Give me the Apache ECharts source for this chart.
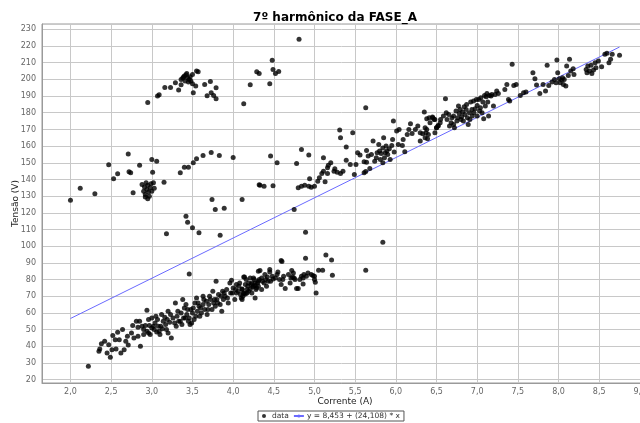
<!DOCTYPE html>
<html>
<head>
<meta charset="utf-8">
<title>7º harmônico da FASE_A</title>
<script src="https://cdn.jsdelivr.net/npm/echarts@6/dist/echarts.min.js"></script>
<style>
  html, body { margin: 0; padding: 0; background: #fff; }
  #chart { width: 640px; height: 423px; }
</style>
</head>
<body>
<div id="chart"></div>
<script>
// Medições: corrente (A) x tensão (V) do 7º harmônico, fase A
const grupoAlto = [
  [2.95,186.2],[3.07,190],[3.09,190.8],[3.16,195.2],[3.23,195.2],[3.29,198],[3.33,193.6],
  [3.36,200],[3.38,200.8],[3.40,202],[3.42,202.8],[3.44,201],[3.46,200],[3.47,201.6],
  [3.50,203],[3.36,196.8],[3.55,205],[3.57,204.6],[3.50,197.4],[3.54,196],[3.51,192],
  [3.41,199],[3.43,203.5],[3.45,198.5],[3.39,201.5],[3.48,199],
  [3.65,197],[3.72,198.8],[3.68,190.2],[3.73,192],[3.76,190.4],[3.79,195],[3.79,188.4],
  [4.13,185.4],[4.21,196.8],[4.29,204.6],[4.32,203.6],[4.45,197.4],[4.48,211.4],
  [4.49,206],[4.52,203.6],[4.56,204.8],[4.81,224]
];

const grupoMedio = [
  [2.0,127.6],[2.12,134.8],[2.30,131.4],[2.47,148.8],[2.53,140.4],[2.58,143.4],[2.71,155.2],
  [2.72,144.6],[2.74,144],[2.77,132],[2.85,148.6],[3.0,152],[3.06,151],[3.01,144.4],
  [3.15,138.4],[3.03,134.8],[3.35,144],[3.40,147.4],[3.45,147.4],[3.51,150],[3.55,152.4],
  [3.63,154.4],[3.73,156.2],[3.83,154.4],[4.0,153.2],[4.32,136.8],[4.38,136],[4.33,136.6],
  [4.49,136.2],[4.46,154],[4.54,150],[4.78,149.6],[4.84,158],[4.93,154.6],[4.80,135],
  [4.84,136],[4.88,136.6],[4.93,136],[4.96,135.4],[4.94,140.4],
  [2.88,137],[2.90,133],[2.91,135.5],[2.92,131],[2.93,138],[2.94,134],[2.95,136.5],
  [2.96,132.5],[2.97,130],[2.98,135],[2.99,137.5],[3.0,133],[2.92,129.5],[2.95,128.5],[3.02,138]
];

const dispersos = [
  [3.74,128],[3.78,122],[3.89,122.8],[4.11,128],[3.42,118],[3.44,114.4],[3.50,111],
  [3.58,108],[3.18,107.4],[3.84,106.6],[3.46,83.4],[2.22,28],[4.75,122],[4.89,108.4],
  [5.84,102.4],[5.63,85.6],[5.14,94.8],[5.21,91.8],[5.22,82.6],[4.89,92.8],[4.59,91.4],
  [4.60,90.8],[5.63,183]
];

const bandaInferior = [
  [2.35,37],[2.36,38.4],[2.38,41.6],[2.42,43],[2.47,41],[2.49,33.4],[2.51,38],[2.56,38.4],
  [2.52,46.4],[2.58,48.4],[2.64,50],[2.70,46],[2.71,40.8],[2.66,38],[2.86,40],
  [2.60,44],[2.68,43],[2.75,48],[2.78,45],[2.90,47],[2.62,36],[2.45,36],[2.55,44],
  [2.85,55],[2.96,56],[3.05,58],[2.98,47],
  [2.765,52.4],[2.81,55],[2.83,51.4],[2.83,46],[2.88,52],[2.92,52.4],[2.94,49],[2.97,52.4],
  [3.0,51],[3.02,52],[2.94,61.6],[3.0,57],[3.04,54],[3.07,56],[3.08,52],[3.09,49],[3.10,47],
  [3.12,59],[3.14,55],[3.16,57.4],[3.17,53],[3.18,50],[3.20,48],[3.20,61],[3.22,54.4],
  [3.24,45],[3.26,57],[3.29,66],[3.30,52],[3.31,58],[3.33,55],[3.35,55],[3.37,53],[3.38,68],
  [3.39,57],[3.40,63],[3.42,65],[3.43,59],[3.44,62],[3.45,55],[3.46,57],[3.47,53],[3.49,54],
  [3.50,60],[3.51,63],[3.53,66],[3.54,58],[3.55,69],[3.56,61],[3.58,64],[3.59,58],[3.61,60],
  [3.63,65],[3.63,70],[3.65,62],[3.67,67],[3.68,59],[3.70,65],[3.72,68],[3.74,62],[3.75,73],
  [3.76,66],[3.78,64],[3.79,79],[3.80,68],[3.82,71],[3.84,65],[3.86,61],[3.87,73],[3.88,68],
  [3.90,70],[3.92,74],[3.94,66],[3.96,78],[3.97,72],[3.98,79.6],[4.00,75],[4.02,68],[4.04,77],
  [4.04,72],[4.06,73],[4.08,78],[4.10,69],[4.11,74.4],[4.13,71.6],[4.13,81.6],[4.15,77],
  [4.17,74],[4.19,78],[4.21,81],[4.23,72],[4.25,76],[4.27,78],[4.29,75],[4.31,85],[4.32,80],
  [4.86,81],[4.84,82],[4.87,83],[4.72,85.4],[4.74,84],[4.71,81],[4.73,81.6],[4.75,81],
  [4.80,74.6],[4.78,74.6],[4.86,77.4],[4.64,74.6],[4.59,77],[4.61,80],[4.55,84.6],[4.52,81],
  [4.45,86],[4.45,84.6],[4.42,81.6],[4.40,80],[4.33,85.4],[4.35,81],[4.31,79],[4.25,81],
  [4.23,78],[4.16,80],[4.14,81.6],[4.27,76.4],[4.28,74],[4.24,75.6],[4.21,74.4],[4.19,73],
  [4.17,72],[4.15,71.4],[4.12,70],[4.11,68],[4.35,74],[4.31,76],[4.41,76],[4.49,80.4],
  [4.54,83],[4.27,69],[4.11,74],[4.13,72],[4.09,71],[4.38,78],[4.46,79],[5.05,85.6],
  [5.10,85.6],[5.02,72],[5.01,78.4],[5.0,80],[4.98,82.4],[4.96,83],[5.0,82],
  [2.90,50],[2.96,48],[3.03,50],[3.06,48.5],[3.11,52],[3.13,50.5],[3.19,56],[3.23,59],
  [3.28,54],[3.32,61],[3.36,60],[3.41,57],[3.48,62],[3.52,56],[3.57,66],[3.60,63],[3.64,68],
  [3.69,62],[3.71,70],[3.77,68],[3.81,66],[3.85,70],[3.89,72],[3.93,69],[3.99,72],[4.03,74],
  [4.07,76],[4.18,76],[4.22,77],[4.26,80],[4.30,78],[4.36,79],[4.39,83],[4.43,79],[4.48,82],
  [4.57,80],[4.62,82],[4.68,83],[4.70,78],[4.76,80],[4.82,80],[4.90,82],[4.92,84]
];

const bandaSuperior = [
  [5.04,139],[5.06,141],[5.09,143.6],[5.11,145],[5.16,147],[5.17,148.6],[5.13,138.6],
  [5.16,143.6],[5.11,153],[5.24,145],[5.28,144.4],[5.32,143.6],[5.35,145],[5.31,169.6],
  [5.32,165],[5.39,159.4],[5.39,151.6],[5.44,149],[5.47,168],[5.51,149],[5.49,143],[5.53,156],
  [5.56,154.6],[5.61,150.6],[5.64,150.4],[5.61,144],[5.63,144.8],[5.68,146.6],[5.64,157.4],
  [5.66,154],[5.70,155],[5.72,163],[5.74,151],[5.76,153],[5.77,156],[5.80,157],[5.82,155.6],
  [5.84,158.8],[5.84,150],[5.85,165],[5.87,156],[5.89,157],[5.92,158.4],[5.95,160.4],
  [5.96,164],[5.97,175],[5.98,156.4],[6.01,169],[6.03,161],[6.04,170],[6.08,160.4],[6.09,164],
  [6.11,156.6],[6.14,167],[6.16,170],[6.18,173.4],[6.20,167.6],[6.24,170],[6.27,172],[6.30,168],
  [6.33,167.4],[6.35,180.4],[6.36,171],[6.38,176.4],[6.39,164.4],[6.41,177],[6.45,177.4],
  [6.48,176],[6.50,171],[6.52,172],
  [5.86,153],[5.90,155],[5.93,152],[5.88,160],[5.81,152],[5.79,161],[5.00,136],[5.20,150],[5.25,146.5],
  [6.30,163],[6.36,165],[6.71,173],
  [6.37,168],[6.38,170],[6.40,167],[6.42,174],[6.455,177],[6.47,176],[6.48,168],[6.50,171],
  [6.52,172.4],[6.545,174],[6.55,176],[6.585,178],[6.61,188.4],[6.62,180],[6.63,176],[6.65,179],
  [6.66,172],[6.68,174],[6.69,177],[6.71,178],[6.72,171],[6.74,181],[6.75,175],[6.76,177],
  [6.77,184],[6.78,179.6],[6.79,182],[6.80,176],[6.81,177.6],[6.82,180.4],[6.83,175],[6.84,183.6],
  [6.85,179],[6.865,182],[6.87,185],[6.88,177],[6.89,173],[6.905,180],[6.91,176],[6.92,186.4],
  [6.935,182],[6.94,178],[6.955,187],[6.96,180],[6.975,182.4],[6.99,188],[7.0,178],[7.0,184.4],
  [7.02,188],[7.03,181],[7.04,183],[7.045,189],[7.06,180],[7.07,186.4],[7.08,176.4],[7.09,190.4],
  [7.10,184],[7.11,189.6],[7.12,191.6],[7.13,186.4],[7.14,178],[7.15,190.4],[7.17,190],[7.18,191],
  [7.20,184],[7.22,191],[7.24,193],[7.26,191.6],[7.34,194],[7.365,197],[7.385,188],[7.40,187],
  [7.43,209],[7.45,196.4],[7.48,197],[7.53,190.4],[7.57,192],[7.60,192.4],[7.685,204],[7.71,200.4],
  [7.73,196.6],[7.77,191.6],[7.81,197],[7.84,193],[7.86,208.4],[7.88,196.4],[7.92,198.4],[7.95,200],
  [7.97,198],[7.98,211.6],[7.99,204],[8.01,200.4],[8.02,198],[8.04,199.6],[8.05,201],[8.06,197],
  [8.07,200],[8.09,196],[8.10,208],[8.12,202.4],[8.135,212],[8.15,205],[8.18,206.4],[8.19,203],
  [8.34,206],[8.35,204],[8.36,208],[8.38,205],[8.40,208.4],[8.41,203.6],[8.43,205.6],[8.45,210],
  [8.46,207],[8.49,211],[8.53,207.6],[8.57,215],[8.595,215.6],[8.62,210],[8.64,212],[8.66,215],
  [8.75,214.4]
];

// Reta de regressão ajustada: y = a + b * x
const intercepto = 8.453;
const inclinacao = 24.108;

// Escalas dos eixos
const eixoX = { min: 1.65, max: 9.1, passo: 0.5 };
const eixoY = { min: 18, max: 233.2, passo: 10 };

const pontos = [].concat(grupoAlto, grupoMedio, dispersos, bandaInferior, bandaSuperior);
const xs = pontos.map(p => p[0]);
const xIni = Math.min(...xs);
const xFim = Math.max(...xs);
const reta = [xIni, xFim].map(x => [x, intercepto + inclinacao * x]);

const decimal = (v, casas) => v.toFixed(casas).replace('.', ',');
const nomeReta = 'y = ' + decimal(intercepto, 3) + ' + (' + decimal(inclinacao, 3) + ') * x';

const fonte = 'DejaVu Sans';
const multiplo = (v, p) => Math.abs(v / p - Math.round(v / p)) < 1e-6;

const chart = echarts.init(document.getElementById('chart'), null, { renderer: 'canvas' });
chart.setOption({
  animation: false,
  backgroundColor: '#ffffff',
  title: {
    text: '7º harmônico da FASE_A',
    left: 330,
    top: 7,
    textAlign: 'center',
    textStyle: { fontFamily: fonte, fontSize: 12, fontWeight: 'bold', color: '#000' }
  },
  grid: {
    left: 42, top: 24, width: 606, height: 359,
    outerBoundsMode: 'none',
    containLabel: false,
    show: true, borderColor: '#9a9a9a', borderWidth: 1, backgroundColor: '#fff'
  },
  legend: {
    data: [{ name: 'data', icon: 'circle' }, { name: nomeReta }],
    left: 258, top: 411,
    orient: 'horizontal',
    borderColor: '#555', borderWidth: 1,
    padding: [1, 4, 1, 4],
    itemGap: 4, itemWidth: 10, itemHeight: 4,
    textStyle: { fontFamily: fonte, fontSize: 7.5, color: '#333', padding: [0, 0, 0, -2] }
  },
  xAxis: {
    type: 'value',
    min: eixoX.min, max: eixoX.max,
    splitNumber: 15, minInterval: eixoX.passo, maxInterval: eixoX.passo,
    name: 'Corrente (A)', nameLocation: 'middle', nameGap: 14,
    nameMoveOverlap: false,
    nameTextStyle: { fontFamily: fonte, fontSize: 9, color: '#222' },
    axisLine: { show: true, onZero: false, lineStyle: { color: '#9a9a9a' } },
    axisTick: { show: false },
    axisLabel: {
      fontFamily: fonte, fontSize: 8, color: '#666', margin: 5,
      showMinLabel: false,
      formatter: v => multiplo(v, eixoX.passo) ? decimal(v, 1) : ''
    },
    splitLine: { show: true, lineStyle: { color: '#c8c8c8', width: 1 } }
  },
  yAxis: {
    type: 'value',
    min: eixoY.min, max: eixoY.max,
    splitNumber: 21, minInterval: eixoY.passo, maxInterval: eixoY.passo,
    name: 'Tensão (V)', nameLocation: 'middle', nameGap: 22,
    nameMoveOverlap: false,
    nameTextStyle: { fontFamily: fonte, fontSize: 9, color: '#222' },
    axisLine: { show: true, onZero: false, lineStyle: { color: '#9a9a9a' } },
    axisTick: { show: false },
    axisLabel: {
      fontFamily: fonte, fontSize: 8, color: '#666', margin: 6,
      showMinLabel: false, showMaxLabel: false,
      formatter: v => multiplo(v, eixoY.passo) ? String(Math.round(v)) : ''
    },
    splitLine: { show: true, lineStyle: { color: '#c8c8c8', width: 1 } }
  },
  series: [
    {
      name: 'data',
      type: 'scatter',
      data: pontos,
      symbol: 'circle',
      symbolSize: 5,
      itemStyle: { color: '#000' },
      z: 3
    },
    {
      name: nomeReta,
      type: 'line',
      data: reta,
      symbol: 'none',
      lineStyle: { color: '#6a6aff', width: 1 },
      itemStyle: { color: '#6a6aff' },
      z: 2
    }
  ]
});
</script>
</body>
</html>
